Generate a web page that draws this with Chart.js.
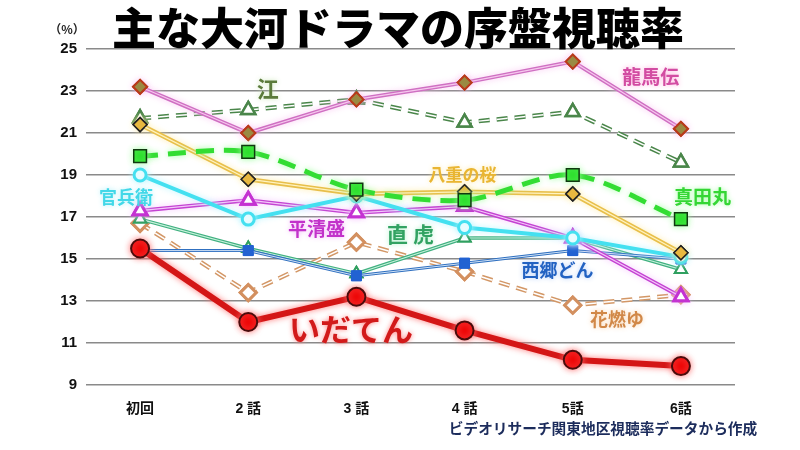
<!DOCTYPE html>
<html lang="ja">
<head>
<meta charset="utf-8">
<title>主な大河ドラマの序盤視聴率</title>
<script src="https://cdn.jsdelivr.net/npm/chart.js@4.4.1/dist/chart.umd.min.js"></script>
<style>
  html, body { margin: 0; padding: 0; background: #fff; }
  #wrap { width: 800px; height: 450px; }
</style>
</head>
<body>
<div id="wrap"><canvas id="chart" width="800" height="450"></canvas></div>
<script>
// 横軸（話数）
const episodes = ['初回', '2 話', '3 話', '4 話', '5話', '6話'];

// 各ドラマの視聴率（%）
const idaten      = [15.5, 12.0, 13.2, 11.6, 10.2, 9.9];
const sanadamaru  = [19.9, 20.1, 18.3, 17.8, 19.0, 16.9];
const yaenosakura = [21.4, 18.8, 18.1, 18.2, 18.1, 15.3];
const ryomaden    = [23.2, 21.0, 22.6, 23.4, 24.4, 21.2];
const gou         = [21.7, 22.1, 22.6, 21.5, 22.0, 19.6];
const kanbee      = [19.0, 16.9, 18.0, 16.5, 16.0, 15.1];
const kiyomori    = [17.3, 17.8, 17.2, 17.5, 16.0, 13.2];
const segodon     = [15.4, 15.4, 14.2, 14.8, 15.4, 15.0];
const naotora     = [16.9, 15.5, 14.3, 16.0, 16.0, 14.5];
const hanamoyu    = [16.7, 13.4, 15.8, 14.4, 12.8, 13.3];

// 縦軸の目盛
const yTicks = [9, 11, 13, 15, 17, 19, 21, 23, 25];

// 線の横に置く名前（x は話数の位置、y は視聴率）
const seriesNames = ['いだてん', '真田丸', '八重の桜', '龍馬伝', '江', '官兵衛', '平清盛', '西郷どん', '直 虎', '花燃ゆ'];
const nameX = [1.95, 5.2, 2.98, 4.72, 1.18, -0.13, 1.63, 3.86, 2.5, 4.41];
const nameY = [11.67, 17.95, 19.0, 23.7, 23.1, 17.95, 16.43, 14.48, 16.2, 12.14];

const jp = "'Noto Sans CJK JP', 'Noto Sans', sans-serif";

// 名前ラベルの見た目
const nameStyle = [
    { color: '#d21a1a', size: 31, glow: 'rgba(255,120,120,0.9)' },
    { color: '#34d634', size: 19, glow: 'rgba(150,255,150,0.9)' },
    { color: '#e9b532', size: 17, glow: 'rgba(255,230,150,0.9)' },
    { color: '#d24ca2', size: 19, glow: 'rgba(255,170,220,0.9)' },
    { color: '#5b7b3b', size: 22, glow: 'rgba(200,230,180,0.9)' },
    { color: '#42d8e8', size: 18, glow: 'rgba(170,240,250,0.9)' },
    { color: '#c232ca', size: 19, glow: 'rgba(240,170,250,0.9)' },
    { color: '#2262c2', size: 18, glow: 'rgba(170,200,250,0.9)' },
    { color: '#32a262', size: 21, glow: 'rgba(170,240,200,0.9)' },
    { color: '#d18848', size: 18, glow: 'rgba(250,210,170,0.9)' }
];

// 二重線と光彩
const lineEffects = {
    id: 'lineEffects',
    beforeDatasetDraw(chart, args) {
        const ds = chart.data.datasets[args.index];
        const ctx = chart.ctx;
        ctx.save();
        if (ds.glowColor) {
            ctx.shadowColor = ds.glowColor;
            ctx.shadowBlur = 6;
        }
    },
    afterDatasetDraw(chart, args) {
        const ctx = chart.ctx;
        ctx.restore();
        const ds = chart.data.datasets[args.index];
        if (!ds.innerColor) return;
        const pts = args.meta.data;
        ctx.save();
        ctx.beginPath();
        pts.forEach((p, i) => i ? ctx.lineTo(p.x, p.y) : ctx.moveTo(p.x, p.y));
        ctx.strokeStyle = ds.innerColor;
        ctx.lineWidth = ds.innerWidth || 1.5;
        ctx.lineJoin = 'round';
        ctx.setLineDash(ds.borderDash || []);
        ctx.stroke();
        ctx.restore();
        pts.forEach(p => p.draw(ctx, chart.chartArea));
    }
};

// タイトル・単位・名前・出典
const textLayer = {
    id: 'textLayer',
    afterDraw(chart) {
        const ctx = chart.ctx;
        const xs = chart.scales.x;
        const ys = chart.scales.y;
        ctx.save();
        ctx.textAlign = 'center';
        ctx.textBaseline = 'middle';

        ctx.fillStyle = '#000';
        ctx.font = `900 44px ${jp}`;
        ctx.fillText('主な大河ドラマの序盤視聴率', 398, 28);

        ctx.font = `bold 12px ${jp}`;
        ctx.fillStyle = '#222';
        ctx.fillText('（%）', 67, 29);

        seriesNames.forEach((name, i) => {
            const st = nameStyle[i];
            ctx.font = `bold ${st.size}px ${jp}`;
            ctx.shadowColor = st.glow;
            ctx.shadowBlur = 5;
            ctx.fillStyle = st.color;
            ctx.fillText(name, xs.getPixelForValue(nameX[i]), ys.getPixelForValue(nameY[i]));
        });

        ctx.shadowBlur = 0;
        ctx.fillStyle = '#1c2c5c';
        ctx.font = `bold 14.7px ${jp}`;
        ctx.fillText('ビデオリサーチ関東地区視聴率データから作成', 603, 428);
        ctx.restore();
    }
};

const data = {
    labels: episodes,
    datasets: [
        {
            label: 'いだてん', data: idaten,
            borderColor: '#d41616', borderWidth: 6, glowColor: 'rgba(255,110,110,0.9)',
            pointStyle: 'circle', pointRadius: 9, pointBackgroundColor: '#ee0606',
            pointBorderColor: '#4a0c0c', pointBorderWidth: 2
        },
        {
            label: '真田丸', data: sanadamaru,
            borderColor: '#33dd33', borderWidth: 5, borderDash: [18, 10], tension: 0.3,
            glowColor: 'rgba(160,255,160,0.9)',
            pointStyle: 'rect', pointRadius: 9, pointBackgroundColor: '#22dd22',
            pointBorderColor: '#103810', pointBorderWidth: 1.5
        },
        {
            label: '八重の桜', data: yaenosakura,
            borderColor: '#e8bf4a', borderWidth: 4.5, innerColor: '#fff3c0', innerWidth: 1.2,
            glowColor: 'rgba(255,235,160,0.8)',
            pointStyle: 'rectRot', pointRadius: 7, pointBackgroundColor: '#e8b840',
            pointBorderColor: '#222', pointBorderWidth: 1.5
        },
        {
            label: '龍馬伝', data: ryomaden,
            borderColor: '#cf6fc2', borderWidth: 4, innerColor: '#f6c8ee', innerWidth: 1.2,
            glowColor: 'rgba(250,190,240,0.8)',
            pointStyle: 'rectRot', pointRadius: 7, pointBackgroundColor: '#9a8a42',
            pointBorderColor: '#b83a1a', pointBorderWidth: 2
        },
        {
            label: '江', data: gou,
            borderColor: '#4a864a', borderWidth: 4.5, borderDash: [11, 7],
            innerColor: '#ffffff', innerWidth: 1.5,
            pointStyle: 'triangle', pointRadius: 8, pointBackgroundColor: '#fff',
            pointBorderColor: '#4a864a', pointBorderWidth: 2.5
        },
        {
            label: '官兵衛', data: kanbee,
            borderColor: '#44e0f0', borderWidth: 4, glowColor: 'rgba(180,245,255,0.9)',
            pointStyle: 'circle', pointRadius: 6, pointBackgroundColor: '#fff',
            pointBorderColor: '#44e0f0', pointBorderWidth: 3
        },
        {
            label: '平清盛', data: kiyomori,
            borderColor: '#c442d2', borderWidth: 4, innerColor: '#f4c8fa', innerWidth: 1.2,
            glowColor: 'rgba(245,190,255,0.8)',
            pointStyle: 'triangle', pointRadius: 8, pointBackgroundColor: '#fff',
            pointBorderColor: '#c432d2', pointBorderWidth: 3
        },
        {
            label: '西郷どん', data: segodon,
            borderColor: '#3070c0', borderWidth: 3, innerColor: '#d0e2f6', innerWidth: 1,
            pointStyle: 'rect', pointRadius: 7, pointBackgroundColor: '#2262d2',
            pointBorderColor: '#2262d2', pointBorderWidth: 1
        },
        {
            label: '直虎', data: naotora,
            borderColor: '#40b080', borderWidth: 3.5, innerColor: '#c8f2dc', innerWidth: 1.2,
            pointStyle: 'triangle', pointRadius: 7, pointBackgroundColor: '#fff',
            pointBorderColor: '#30a060', pointBorderWidth: 2
        },
        {
            label: '花燃ゆ', data: hanamoyu,
            borderColor: '#d39766', borderWidth: 4.5, borderDash: [11, 7],
            innerColor: '#ffffff', innerWidth: 1.5,
            pointStyle: 'rectRot', pointRadius: 8, pointBackgroundColor: '#fff',
            pointBorderColor: '#d39060', pointBorderWidth: 3
        }
    ]
};

new Chart(document.getElementById('chart'), {
    type: 'line',
    data: data,
    options: {
        responsive: false,
        animation: false,
        events: [],
        layout: { padding: { top: 49, right: 65, left: 0, bottom: 0 } },
        plugins: {
            legend: { display: false },
            tooltip: { enabled: false }
        },
        scales: {
            x: {
                offset: true,
                grid: { display: false },
                border: { display: false },
                afterFit(scale) { scale.height = 65; },
                ticks: {
                    padding: 8,
                    color: '#111',
                    font: { family: "'Liberation Sans', 'Noto Sans CJK JP', sans-serif", size: 14, weight: 'bold' }
                }
            },
            y: {
                min: 9,
                max: 25,
                afterFit(scale) { scale.width = 86; },
                afterBuildTicks(scale) { scale.ticks = yTicks.map(v => ({ value: v })); },
                grid: { color: '#8a8a8a', lineWidth: 1.5, drawTicks: false },
                border: { display: false },
                ticks: {
                    padding: 9,
                    color: '#111',
                    font: { family: "'Liberation Sans', sans-serif", size: 15, weight: 'bold' }
                }
            }
        }
    },
    plugins: [lineEffects, textLayer]
});
</script>
</body>
</html>
